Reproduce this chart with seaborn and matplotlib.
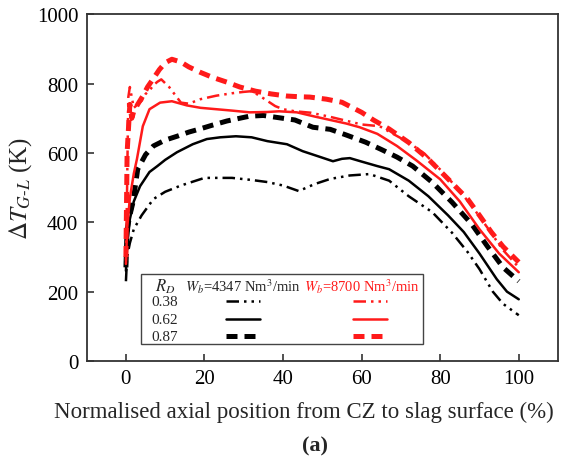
import numpy as np
import pandas as pd
import matplotlib
matplotlib.use("Agg")
import matplotlib.pyplot as plt
from matplotlib.patches import Rectangle
from matplotlib.lines import Line2D
import seaborn as sns

# ---- data ----
bk38_x = [0, 0.3, 1, 2, 4, 7, 10, 14, 20, 27, 32, 36, 40, 44, 48, 52, 57, 62, 67, 72, 78, 83, 87, 90, 93.4, 96, 100]
bk38_y = [230, 300, 340, 380, 420, 467, 488, 506, 528, 528, 522, 516, 506, 490, 510, 525, 535, 539, 520, 475, 429, 370, 314, 265, 200, 165, 132]

bk62_x = [0, 0.3, 1, 2, 3.6, 6, 8, 10, 13, 17, 20.6, 24, 28, 32, 36, 41, 45, 49, 52.7, 55, 57, 60, 64, 67, 72, 77, 82, 86, 90, 94.4, 97, 100]
bk62_y = [260, 330, 409, 460, 504, 545, 562, 580, 602, 625, 640, 645, 648, 645, 634, 625, 605, 590, 576, 583, 585, 575, 562, 553, 520, 475, 420, 372, 310, 236, 200, 178]

bk87_x = [0, 0.3, 1, 1.8, 3, 5, 7, 10, 13, 16, 18.8, 22, 25.7, 29, 31.5, 35, 38, 43, 47.6, 52, 56, 61, 65, 69, 73, 78, 83, 88, 92, 96, 100]
bk87_y = [270, 380, 420, 458, 553, 595, 620, 637, 648, 660, 669, 680, 692, 700, 706, 708, 703, 695, 674, 668, 652, 631, 610, 588, 562, 515, 458, 395, 331, 270, 230]

rd38_x = [0, 0.3, 0.6, 1, 1.5, 2, 3, 4, 5, 6, 7, 8, 9, 11, 13, 14, 16, 19, 23, 27, 30, 32, 34, 36, 38, 40, 43, 47, 52, 56, 60, 64.6, 68, 72, 76, 80, 84, 88, 92, 96, 100]
rd38_y = [290, 500, 760, 790, 760, 730, 740, 750, 770, 780, 795, 805, 812, 790, 760, 745, 742, 755, 765, 772, 776, 778, 765, 750, 735, 726, 720, 716, 704, 693, 682, 677, 655, 630, 598, 552, 503, 448, 385, 320, 270]

rd62_x = [0, 0.3, 1, 2, 2.8, 4.3, 6, 8.7, 11.7, 15.5, 19, 23, 27, 31.5, 36, 39, 43.5, 48, 52, 56, 59.5, 64, 69, 74, 80, 85, 90, 95, 100]
rd62_y = [280, 380, 470, 540, 582, 677, 726, 745, 749, 737, 730, 726, 722, 717, 718, 720, 717, 705, 695, 685, 674, 655, 620, 578, 524, 460, 380, 310, 256]

rd87_x = [0, 0.3, 1, 1.5, 2, 3, 4.3, 5.5, 6.9, 8.5, 10, 11.7, 14, 16, 18.8, 22, 25.7, 29, 33, 37, 41, 44, 46.8, 51, 55, 60, 63, 67, 72, 77, 82, 87, 90, 93, 96, 100]
rd87_y = [300, 600, 740, 700, 720, 740, 764, 790, 813, 840, 860, 870, 862, 848, 833, 818, 804, 790, 778, 770, 764, 762, 761, 755, 746, 717, 695, 669, 630, 582, 525, 467, 420, 372, 330, 285]

rd_labels = ["0.38", "0.62", "0.87"]
header_low = r"$W_b$=4347 Nm$^3$/min"
header_high = r"$W_b$=8700 Nm$^3$/min"
xticks = [0, 20, 40, 60, 80, 100]
yticks = [0, 200, 400, 600, 800, 1000]

# ---- style ----
sns.set_style("ticks")
plt.rcParams["font.family"] = ["Liberation Serif", "DejaVu Serif"]
plt.rcParams["mathtext.fontset"] = "stix"

RED = "#ff1a1a"
BLK = "#000000"
dashdot = (0, (5, 2, 1, 2, 1, 2))
dashed = (0, (2.2, 1.4))

series = [
    (bk38_x, bk38_y, BLK, dashdot, 1.8),
    (bk62_x, bk62_y, BLK, "-", 1.8),
    (bk87_x, bk87_y, BLK, dashed, 3.6),
    (rd38_x, rd38_y, RED, dashdot, 1.8),
    (rd62_x, rd62_y, RED, "-", 1.8),
    (rd87_x, rd87_y, RED, dashed, 3.6),
]

fig = plt.figure(figsize=(5.7, 4.6), dpi=100)
ax = fig.add_axes([0.152, 0.213, 0.827, 0.754])

for xs, ys, c, ls, lw in series:
    df = pd.DataFrame({"x": xs, "y": ys})
    sns.lineplot(data=df, x="x", y="y", ax=ax, color=c, linestyle=ls,
                 linewidth=lw, estimator=None, sort=False)

ax.set_xlim(-10, 110)
ax.set_ylim(0, 1000)
ax.set_xticks(xticks)
ax.set_yticks(yticks)
ax.tick_params(direction="in", length=5, width=1.1, labelsize=15, colors="#222222", pad=6)
ax.tick_params(labelcolor="black")
for s in ax.spines.values():
    s.set_linewidth(1.3)
    s.set_color("#333333")

ax.set_xlabel("Normalised axial position from CZ to slag surface (%)", fontsize=16.5,
              labelpad=9, x=0.46)
ax.set_ylabel(r"$\Delta T_{G\text{-}L}$ (K)", fontsize=18, labelpad=2)

# ---- custom legend box ----
ax.add_patch(Rectangle((0.115, 0.049), 0.599, 0.202, transform=ax.transAxes,
                       fill=False, edgecolor="#444444", linewidth=1.0))
ax.text(0.166, 0.216, r"$R_D$", transform=ax.transAxes, ha="center", va="center", fontsize=12)
ax.text(0.332, 0.216, header_low, transform=ax.transAxes, ha="center", va="center", fontsize=10.5)
ax.text(0.584, 0.216, header_high, transform=ax.transAxes, ha="center", va="center",
        fontsize=10.5, color=RED)
row_y = [0.173, 0.121, 0.072]
styles = [(dashdot, 1.8), ("-", 1.8), (dashed, 3.6)]
for lab, yy, (ls, lw) in zip(rd_labels, row_y, styles):
    ax.text(0.166, yy, lab, transform=ax.transAxes, ha="center", va="center", fontsize=11)
    ax.add_line(Line2D([0.296, 0.368], [yy, yy], transform=ax.transAxes, color=BLK,
                       linestyle=ls, linewidth=lw))
    ax.add_line(Line2D([0.565, 0.638], [yy, yy], transform=ax.transAxes, color=RED,
                       linestyle=ls, linewidth=lw))

fig.text(0.553, 0.03, "(a)", ha="center", va="center", fontsize=16, fontweight="bold")

fig.savefig("out.png", dpi=100)
